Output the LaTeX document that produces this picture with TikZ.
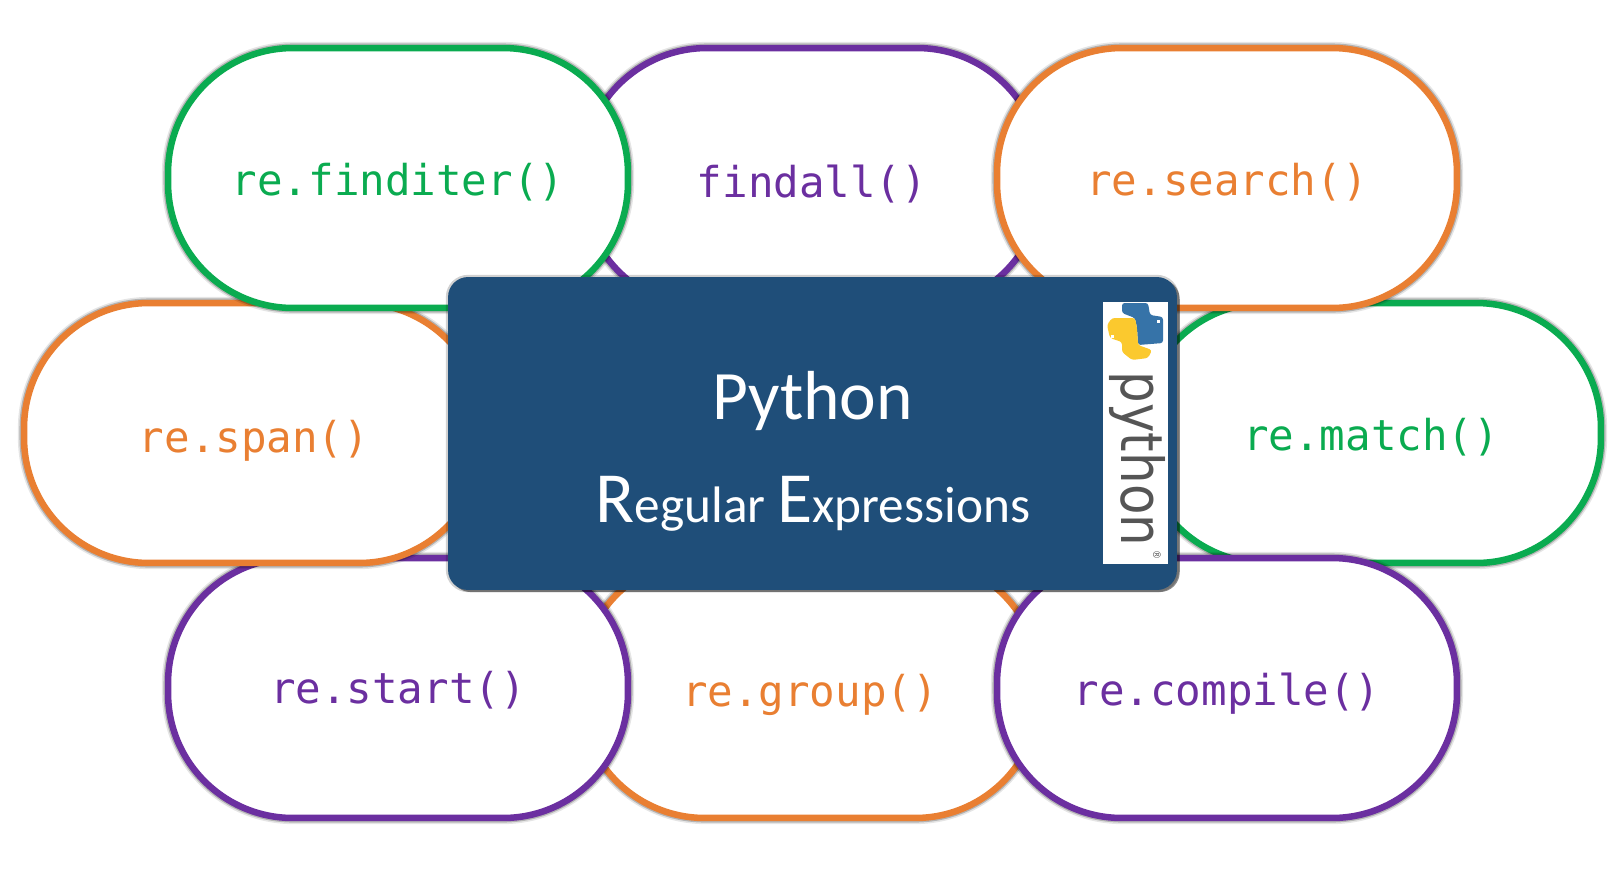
\documentclass[tikz,border=0pt]{standalone}
\usepackage{fontspec}
\usetikzlibrary{shadows}
\setmonofont{DejaVu Sans Mono}
\newfontfamily\titlefont{Carlito}
\newfontfamily\logofont[FakeStretch=0.86]{DejaVu Sans}
\definecolor{regreen}{HTML}{0AAB50}
\definecolor{reorange}{HTML}{E97F32}
\definecolor{repurple}{HTML}{6B2FA0}
\definecolor{reblue}{HTML}{1F4E79}
\definecolor{logoblue}{HTML}{3673A8}
\definecolor{logoyellow}{HTML}{FBC92E}
\definecolor{logogray}{HTML}{555555}
\tikzset{
    halo/.style={preaction={draw=black, opacity=.10, line width=7pt},
                 preaction={draw=black, opacity=.22, line width=5.2pt}},
    pill/.style={shape=rectangle, draw=#1, fill=white, text=#1, line width=3.7pt,
                 rounded corners=2.5cm, minimum width=9.2cm, minimum height=5.2cm,
                 text height=20.2pt, text depth=0.5pt,
                 font=\ttfamily\fontsize{24.2}{29}\selectfont, halo},
}

\begin{document}
\begin{tikzpicture}[x=0.02cm, y=-0.02cm]
    \useasboundingbox (0,0) rectangle (1622,880);

    % lowest ones first, each one covers the one before
    \node[pill=repurple, text height=22.5pt] (findall) at (812,178) {findall()};
    \node[pill=reorange, text height=21.3pt] (group) at (810,688) {re.group()};
    \node[pill=regreen] (match) at (1371,433) {re.match()};
    \node[pill=repurple, text height=17.9pt] (start) at (398,688) {re.start()};
    \node[pill=reorange, text height=22.5pt] (span) at (254,433) {re.span()};
    \node[pill=regreen] (finditer) at (398,178) {re.finditer()};
    \node[pill=reorange] (search) at (1227,178) {re.search()};
    \node[pill=repurple] (compile) at (1227,688) {re.compile()};

    \node[shape=rectangle, fill=reblue, rounded corners=0.4cm, minimum width=14.58cm,
          minimum height=6.26cm, drop shadow={shadow xshift=1.6pt, shadow yshift=-1.2pt, opacity=.45, fill=black},
          preaction={draw=black, opacity=.18, line width=2.5pt}]
          (center) at (812.5,433.5) {};
    \node[text=white, font=\titlefont\fontsize{39.5}{47}\selectfont] (title) at (812.5,401) {Python};
    \node[text=white, font=\titlefont\fontsize{29.2}{35}\selectfont] (subtitle) at (813,504)
          {{\fontsize{41}{49}\selectfont R}egular {\fontsize{41}{49}\selectfont E}xpressions};

    % logo strip
    \node[shape=rectangle, fill=white, minimum width=1.3cm, minimum height=5.24cm] (strip) at (1135.5,433) {};
    \fill[logoblue, rounded corners=1.5pt] (1122,303) -- (1148,303) -- (1150,315) -- (1163,317) -- (1163,343)
        -- (1138,345) -- (1137,328) -- (1135,318) -- (1122,313) -- cycle;
    \fill[logoyellow, rounded corners=1.5pt] (1107,325) -- (1112,318) -- (1135,318) -- (1137,328) -- (1138,345)
        -- (1152,350) -- (1148,358) -- (1132,360) -- (1122,352) -- (1122,342) -- (1110,338) -- cycle;
    \fill[white] (1157,320) rectangle (1160,323);
    \fill[white] (1111,335) rectangle (1114,338);
    \node[rotate=-90, text=logogray, font=\logofont\fontsize{33}{38}\selectfont] (logotext) at (1137,459) {python};
    \node[rotate=-90, text=logogray, font=\logofont\fontsize{6}{7}\selectfont] (logomark) at (1157,555) {®};
\end{tikzpicture}
\end{document}
